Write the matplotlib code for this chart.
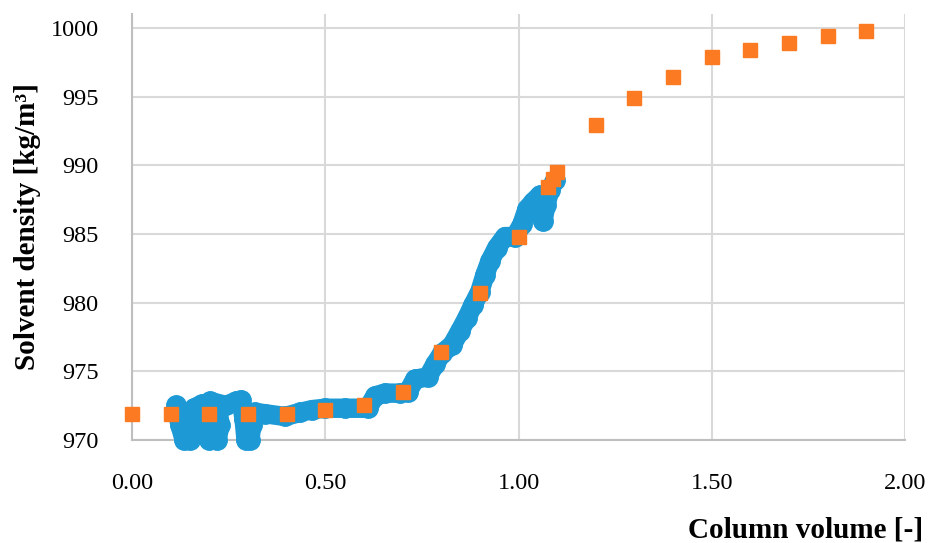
import matplotlib
matplotlib.use("Agg")
import matplotlib.pyplot as plt

# Measured column outlet density (blue trace)
cv_measured = [0.114, 0.124, 0.135, 0.150, 0.155, 0.160, 0.181, 0.191, 0.199, 0.220,
               0.228, 0.222, 0.202, 0.243, 0.269, 0.282, 0.290, 0.295, 0.305, 0.310,
               0.318, 0.344, 0.396, 0.435, 0.466, 0.499, 0.551, 0.610, 0.629, 0.654,
               0.693, 0.714, 0.732, 0.766, 0.784, 0.802, 0.828, 0.848, 0.867, 0.882,
               0.900, 0.913, 0.926, 0.944, 0.965, 0.991, 1.009, 1.022, 1.037, 1.055,
               1.063, 1.063, 1.071, 1.081, 1.094]
rho_measured = [972.5, 971.1, 970.0, 970.0, 971.1, 972.3, 972.6, 971.5, 970.0, 970.0,
                971.1, 972.2, 972.8, 972.5, 972.8, 972.9, 971.5, 970.0, 970.0, 971.1,
                972.0, 971.9, 971.7, 972.0, 972.2, 972.3, 972.3, 972.3, 973.2, 973.4,
                973.4, 973.5, 974.4, 974.6, 975.5, 976.3, 976.9, 977.9, 978.9, 979.8,
                980.8, 982.0, 983.0, 984.0, 984.8, 984.8, 985.7, 986.8, 987.3, 987.8,
                987.1, 985.9, 987.1, 988.2, 988.9]

# Model density (orange squares)
cv_model = [0.0, 0.1, 0.2, 0.3, 0.4, 0.5, 0.6, 0.7, 0.8, 0.9, 1.0,
            1.075, 1.09, 1.1, 1.2, 1.3, 1.4, 1.5, 1.6, 1.7, 1.8, 1.9]
rho_model = [971.9, 971.9, 971.9, 971.9, 971.9, 972.2, 972.5, 973.5, 976.4, 980.7, 984.8,
             988.4, 989.0, 989.5, 992.9, 994.9, 996.4, 997.9, 998.4, 998.9, 999.4, 999.8]

x_ticks = [0.0, 0.5, 1.0, 1.5, 2.0]
x_ticklabels = ["0.00", "0.50", "1.00", "1.50", "2.00"]
y_ticks = [970, 975, 980, 985, 990, 995, 1000]

plt.rcParams['font.family'] = ['Liberation Serif', 'DejaVu Serif']

fig = plt.figure(figsize=(9.33, 5.43), dpi=100)
ax = fig.add_axes([0.1415, 0.19, 0.8285, 0.784])

blue = '#1d9ad6'
orange = '#fc7b22'

ax.plot(cv_measured, rho_measured, color=blue, lw=14, marker='o', ms=14,
        solid_capstyle='round', solid_joinstyle='round', clip_on=False, zorder=3)
ax.plot(cv_model, rho_model, ls='none', marker='s', ms=10, color=orange,
        clip_on=False, zorder=4)

ax.set_xlim(0, 2)
ax.set_ylim(970, 1001)
ax.set_xticks(x_ticks)
ax.set_xticklabels(x_ticklabels)
ax.set_yticks(y_ticks)
ax.tick_params(length=0, labelsize=17.5, colors='black')
ax.tick_params(axis='x', pad=24)
ax.tick_params(axis='y', pad=24)

ax.grid(True, color='#d9d9d9', lw=1.5)
ax.set_axisbelow(True)
for s in ['top', 'right']:
    ax.spines[s].set_visible(False)
for s in ['left', 'bottom']:
    ax.spines[s].set_color('#bfbfbf')
    ax.spines[s].set_linewidth(1.5)

fig.text(0.029, 0.582, "Solvent density [kg/m³]", fontsize=21, fontweight='bold',
         rotation=90, ha='center', va='center')
fig.text(0.989, 0.024, "Column volume [-]", fontsize=21, fontweight='bold',
         ha='right', va='center')

fig.savefig("out.png", dpi=100)
